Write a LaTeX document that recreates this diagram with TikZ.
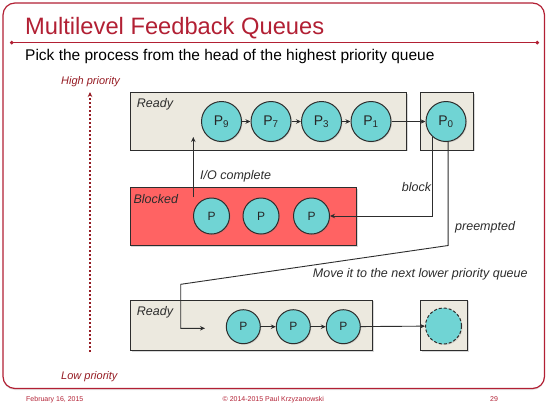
\documentclass[tikz,border=0pt]{standalone}
\usepackage{fontspec}
\setmainfont{Liberation Sans}
\usetikzlibrary{arrows.meta,shadows}
\definecolor{slidered}{RGB}{178,32,52}
\definecolor{priored}{RGB}{150,28,36}
\definecolor{linegray}{RGB}{45,45,45}
\definecolor{queuebg}{RGB}{236,233,223}
\definecolor{blockedbg}{RGB}{255,99,99}
\definecolor{proccyan}{RGB}{112,212,212}

\begin{document}
\begin{tikzpicture}[x=1pt, y=-1pt,
    queue/.style={draw=linegray, fill=queuebg, line width=0.9pt, inner sep=0pt,
        drop shadow={shadow xshift=1.5pt, shadow yshift=-1.5pt, opacity=0.3}},
    proc/.style={circle, draw=linegray, fill=proccyan, line width=1pt, inner sep=0pt,
        minimum size=40pt, text=black!85, font=\fontsize{14}{14}\selectfont,
        drop shadow={shadow xshift=1pt, shadow yshift=-1pt, opacity=0.25}},
    small/.style={minimum size=36pt, font=\fontsize{12}{12}\selectfont},
    lbl/.style={anchor=base west, inner sep=0pt, text=linegray,
        font=\fontsize{12.5}{12.5}\selectfont\itshape},
    arr/.style={draw=linegray, line width=0.9pt, -{Stealth[length=5pt,width=4.5pt]}},
    prio/.style={anchor=base west, inner sep=0pt, text=priored,
        font=\fontsize{11}{11}\selectfont\itshape}]
    \useasboundingbox (0,0) rectangle (548,405);
    \draw[slidered, line width=1.2pt, rounded corners=12pt,
        drop shadow={shadow xshift=0pt, shadow yshift=-1.5pt, opacity=0.2}, fill=white]
        (3,3) rectangle (544.5,388.5);
    \draw[slidered, line width=1.2pt, {Circle[length=3.5pt]}-{Circle[length=3.5pt]}]
        (10,42.7) -- (539,42.7);
    \node[anchor=base west, inner sep=0pt, text=slidered, font=\fontsize{23.7}{24}\selectfont]
        (title) at (25,34) {Multilevel Feedback Queues};
    \node[anchor=base west, inner sep=0pt, font=\fontsize{15.5}{15.5}\selectfont]
        (pick) at (25,60.7) {Pick the process from the head of the highest priority queue};

    \node[prio] (high) at (61,84.3) {High priority};
    \node[prio] (low) at (61,379) {Low priority};
    \coordinate (hi) at (90,92);
    \coordinate (lo) at (90,352);
    \draw[priored, line width=1.1pt, dash pattern=on 2.5pt off 1.5pt,
        -{Stealth[length=5pt,width=4.5pt]}] (lo) -- (hi);

    \node[queue, minimum width=276pt, minimum height=57.3pt] (ready) at (268,121.3) {};
    \node[queue, minimum width=52.6pt, minimum height=57.3pt] (head) at (447,121.3) {};
    \node[queue, fill=blockedbg, minimum width=226.7pt, minimum height=57.8pt] (blocked) at (243.3,216.6) {};
    \node[queue, minimum width=242pt, minimum height=50.7pt] (lower) at (251.7,325.3) {};
    \node[queue, minimum width=47.3pt, minimum height=50.7pt] (lowhead) at (443.7,325.3) {};

    \node[lbl] at (136.7,107.3) {Ready};
    \node[lbl] at (133.3,203) {Blocked};
    \node[lbl] at (136.7,315) {Ready};

    \node[proc] (p9) at (221.5,121.5) {P\textsubscript{9}};
    \node[proc] (p7) at (271,121.5) {P\textsubscript{7}};
    \node[proc] (p3) at (321.5,121.5) {P\textsubscript{3}};
    \node[proc] (p1) at (371,121.5) {P\textsubscript{1}};
    \node[proc] (p0) at (446,121.5) {P\textsubscript{0}};
    \draw[arr] (p9) -- (p7);
    \draw[arr] (p7) -- (p3);
    \draw[arr] (p3) -- (p1);
    \draw[arr] (p1) -- (p0);

    \node[proc, small] (b1) at (211.5,216) {P};
    \node[proc, small] (b2) at (261,216) {P};
    \node[proc, small] (b3) at (311.5,216) {P};

    \node[proc, small, minimum size=34pt] (q1) at (243.3,326.7) {P};
    \node[proc, small, minimum size=34pt] (q2) at (293.3,326.7) {P};
    \node[proc, small, minimum size=34pt] (q3) at (343.3,326.7) {P};
    \node[proc, small, dashed, dash pattern=on 3pt off 2pt] (qd) at (443.5,326) {};
    \draw[arr] (q1) -- (q2);
    \draw[arr] (q2) -- (q3);
    \draw[arr] (q3) -- (qd);

    \coordinate (io) at (193.3,197);
    \coordinate (iotop) at (193.3,137);
    \draw[arr] (io) -- (iotop);
    \node[lbl] at (200,179) {I/O complete};

    \draw[arr] (p0.228) |- (b3);
    \node[lbl] at (401.7,191) {block};

    \coordinate (drop) at (447.7,245.5);
    \coordinate (bend) at (180.7,284.3);
    \coordinate (enter) at (205,328.3);
    \draw[arr] (p0.276) -- (p0.276 |- drop) -- (bend) |- (enter);
    \node[lbl] at (455,230.7) {preempted};
    \node[lbl] at (312.7,277.3) {Move it to the next lower priority queue};

    \node[anchor=base west, inner sep=0pt, text=slidered, font=\fontsize{7}{7}\selectfont]
        (date) at (26,401.5) {February 16, 2015};
    \node[anchor=base, inner sep=0pt, text=slidered, font=\fontsize{7}{7}\selectfont]
        (copy) at (273.3,401.5) {© 2014-2015 Paul Krzyzanowski};
    \node[anchor=base west, inner sep=0pt, text=slidered, font=\fontsize{7}{7}\selectfont]
        (page) at (490,401.5) {29};
\end{tikzpicture}
\end{document}
